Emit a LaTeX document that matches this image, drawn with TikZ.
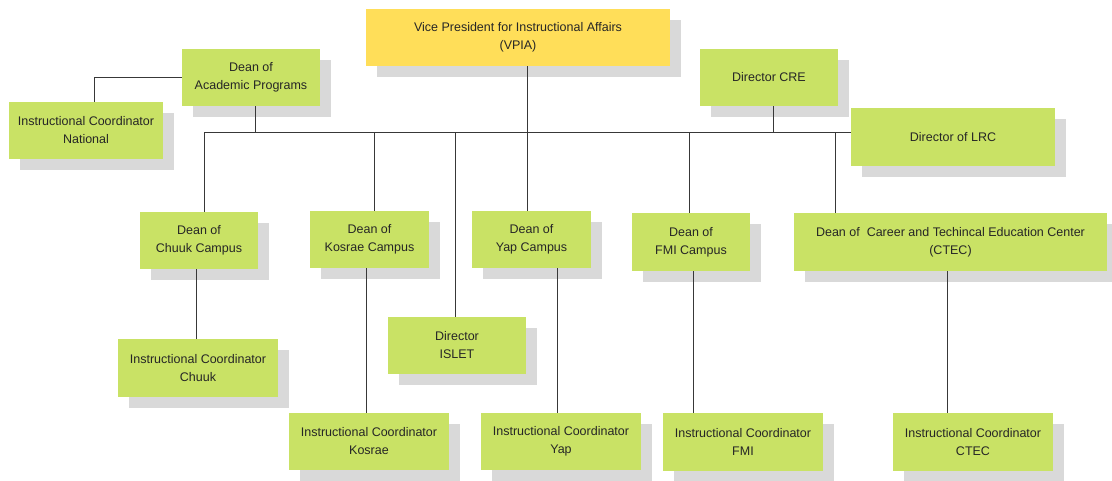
\documentclass[tikz,border=0pt]{standalone}
\usepackage{fontspec}
\setmainfont{Liberation Sans}
\usetikzlibrary{shadows}
\definecolor{boxgreen}{HTML}{C9E265}
\definecolor{boxyellow}{HTML}{FFDE59}
\definecolor{shadowgray}{HTML}{D9D9D9}
\definecolor{linegray}{HTML}{383838}
\definecolor{textdark}{HTML}{262626}
\begin{document}
\begin{tikzpicture}[x=1pt,y=-1pt,
  orgbox/.style={fill=boxgreen, draw=none, inner sep=0pt, align=center,
    text=textdark, font=\fontsize{12.5}{18}\selectfont,
    drop shadow={shadow xshift=11pt, shadow yshift=-11pt, fill=shadowgray, opacity=1}},
  topbox/.style={orgbox, fill=boxyellow},
  conn/.style={draw=linegray, line width=1pt}]
\useasboundingbox (0,0) rectangle (1112,481);
% top level
\node[topbox, minimum width=304pt, minimum height=57pt] (vpia) at (518,37.5) {Vice President for Instructional Affairs\\(VPIA)};
\node[orgbox, minimum width=138pt, minimum height=57pt] (dacad) at (251,77.5) {Dean of\\Academic Programs};
\node[orgbox, minimum width=154pt, minimum height=57pt] (icnat) at (86,130.5) {Instructional Coordinator\\National};
\node[orgbox, minimum width=138pt, minimum height=57pt] (cre) at (769,77.5) {Director CRE};
\node[orgbox, minimum width=204pt, minimum height=58pt] (lrc) at (953,137) {Director of LRC};
% deans
\node[orgbox, minimum width=118pt, minimum height=57pt] (dchuuk) at (199,240.5) {Dean of\\Chuuk Campus};
\node[orgbox, minimum width=119pt, minimum height=57pt] (dkosrae) at (369.5,239.5) {Dean of\\Kosrae Campus};
\node[orgbox, minimum width=119pt, minimum height=57pt] (dyap) at (531.5,239.5) {Dean of\\Yap Campus};
\node[orgbox, minimum width=118pt, minimum height=58pt] (dfmi) at (691,242) {Dean of\\FMI Campus};
\node[orgbox, minimum width=313pt, minimum height=58pt] (dctec) at (950.5,242) {Dean of~ Career and Techincal Education Center\\(CTEC)};
% lower level
\node[orgbox, minimum width=160pt, minimum height=58pt] (icchuuk) at (198,368) {Instructional Coordinator\\Chuuk};
\node[orgbox, minimum width=138pt, minimum height=57pt] (islet) at (457,345.5) {Director\\ISLET};
\node[orgbox, minimum width=160pt, minimum height=57pt] (ickosrae) at (369,441.5) {Instructional Coordinator\\Kosrae};
\node[orgbox, minimum width=160pt, minimum height=57pt] (icyap) at (561,441.5) {Instructional Coordinator\\Yap};
\node[orgbox, minimum width=160pt, minimum height=58pt] (icfmi) at (743,442) {Instructional Coordinator\\FMI};
\node[orgbox, minimum width=160pt, minimum height=58pt] (icctec) at (973,442) {Instructional Coordinator\\CTEC};
% bus coordinates
\coordinate (bC) at (204,133);
\coordinate (bK) at (374,133);
\coordinate (bI) at (455,133);
\coordinate (bV) at (527,133);
\coordinate (bF) at (689,133);
\coordinate (bT) at (835,133);
\coordinate (bA) at (255,133);
\coordinate (bR) at (773,133);
\coordinate (nat) at (94,102);
\coordinate (xC) at (196,0);
\coordinate (xK) at (366,0);
\coordinate (xY) at (557,0);
\coordinate (xF) at (693,0);
\coordinate (xT) at (947,0);
% connectors
\draw[conn] (bC) -- (bC -| lrc.west);
\draw[conn] (bA |- dacad.south) -- (bA);
\draw[conn] (bR |- cre.south) -- (bR);
\draw[conn] (dacad.west) -| (nat);
\draw[conn] (bV |- vpia.south) -- (bV |- dyap.north);
\draw[conn] (bC) -- (bC |- dchuuk.north);
\draw[conn] (bK) -- (bK |- dkosrae.north);
\draw[conn] (bI) -- (bI |- islet.north);
\draw[conn] (bF) -- (bF |- dfmi.north);
\draw[conn] (bT) -- (bT |- dctec.north);
\draw[conn] (dchuuk.south -| xC) -- (icchuuk.north -| xC);
\draw[conn] (dkosrae.south -| xK) -- (ickosrae.north -| xK);
\draw[conn] (dyap.south -| xY) -- (icyap.north -| xY);
\draw[conn] (dfmi.south -| xF) -- (icfmi.north -| xF);
\draw[conn] (dctec.south -| xT) -- (icctec.north -| xT);
\end{tikzpicture}
\end{document}
